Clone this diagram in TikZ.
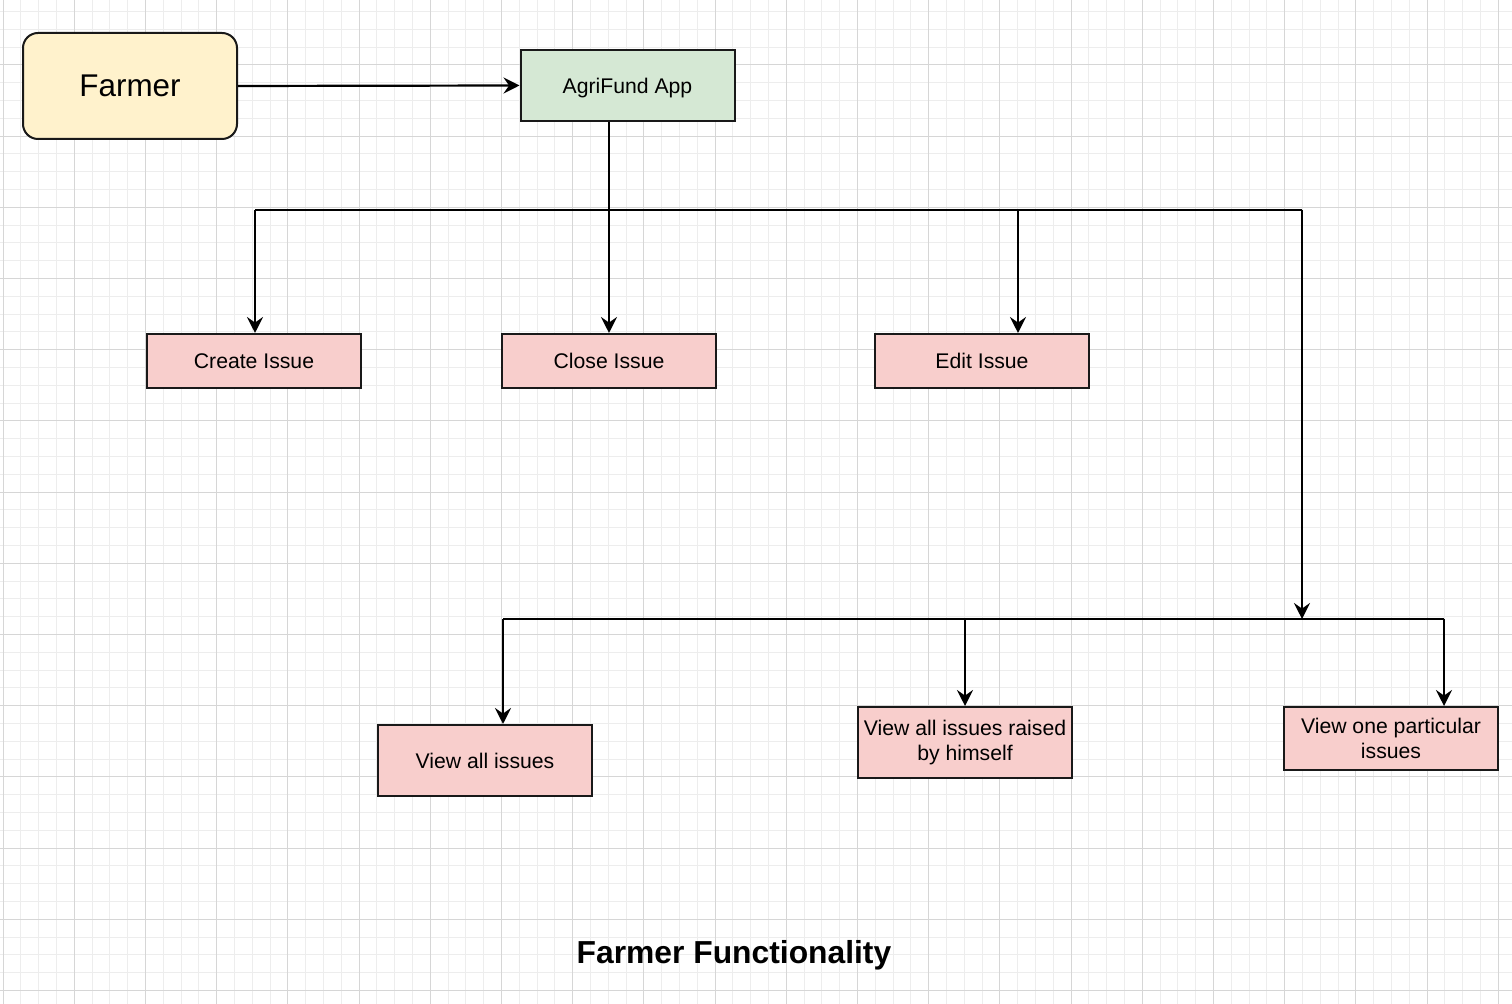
\documentclass[tikz,border=0pt]{standalone}
\usepackage{fontspec}
\setsansfont{Liberation Sans}
\usetikzlibrary{arrows.meta,positioning}

\definecolor{farmerfill}{HTML}{FFF2CC}
\definecolor{appfill}{HTML}{D5E8D4}
\definecolor{taskfill}{HTML}{F8CECC}
\definecolor{gridminor}{HTML}{EDEDED}
\definecolor{gridmajor}{HTML}{D6D6D6}

\begin{document}
\begin{tikzpicture}[
    x=0.5pt, y=-0.5pt,
    font=\sffamily,
    >={Stealth[length=8pt, width=8pt, inset=2.8pt]},
    actorbox/.style={rectangle, draw=black!90, fill=farmerfill, rounded corners=7.5pt, minimum width=107pt, minimum height=53pt, line width=1pt, font=\sffamily\fontsize{15.7}{19}\selectfont},
    appbox/.style={rectangle, draw=black!90, fill=appfill, minimum width=107pt, minimum height=35.5pt, line width=1pt, inner sep=1.5pt, text depth=0pt, font=\sffamily\fontsize{10.6}{12.5}\selectfont},
    taskbox/.style={rectangle, draw=black!90, fill=taskfill, minimum width=107pt, minimum height=27pt, align=center, line width=1pt, inner sep=1.5pt, font=\sffamily\fontsize{10.6}{12.5}\selectfont},
    wire/.style={line width=1.1pt, draw=black},
    minorline/.style={line width=0.5pt, draw=gridminor},
    majorline/.style={line width=0.5pt, draw=gridmajor}
]
\useasboundingbox (0,0) rectangle (1512,1004);
\fill[white] (0,0) rectangle (1512,1004);

% Background grid
\foreach \i in {0,...,84} \draw[minorline] ({3+17.8*\i},0) -- ({3+17.8*\i},1004);
\foreach \j in {0,...,55} \draw[minorline] (0,{11.6+17.8*\j}) -- (1512,{11.6+17.8*\j});
\foreach \i in {0,...,21} \draw[majorline] ({3+71.2*\i},0) -- ({3+71.2*\i},1004);
\foreach \j in {1,...,14} \draw[majorline] (0,{-6.2+71.2*\j}) -- (1512,{-6.2+71.2*\j});

% Actor & App
\node[actorbox] (farmer) at (130, 86) {Farmer};
\node[appbox] (app) at (627.5, 85.5) {AgriFund App};

% Issue actions
\node[taskbox] (create) at (254, 361) {Create Issue};
\node[taskbox] (close) at (609, 361) {Close Issue};
\node[taskbox] (edit) at (982, 361) {Edit Issue};

% View actions
\node[taskbox, minimum height=35.5pt] (viewall) at (485, 760.5) {View all issues};
\node[taskbox, minimum height=35.5pt] (viewown) at (965, 742.5) {View all issues raised\\ by himself};
\node[taskbox, minimum height=31.5pt] (viewone) at (1391, 738.5) {View one particular\\ issues};

% Caption
\node[font=\sffamily\bfseries\fontsize{15.9}{19}\selectfont] (caption) at (734, 955) {Farmer Functionality};

% Junctions
\coordinate (busL) at (255, 210);
\coordinate (busR) at (1302, 210);
\coordinate (editdrop) at (1018, 210);
\coordinate (viewbusL) at (503, 619);
\coordinate (viewbusM) at (1302, 619);
\coordinate (viewbusR) at (1444, 619);
\coordinate (owndrop) at (965, 619);

% Arrows
\draw[->, wire] (farmer.east) -- (app.west);
\draw[->, wire] (app.south -| close.north) -- (close.north);
\draw[wire] (busL) -- (busR);
\draw[->, wire] (busL) -- (busL |- create.north);
\draw[->, wire] (editdrop) -- (editdrop |- edit.north);
\draw[->, wire] (busR) -- (viewbusM);

\draw[wire] (viewbusL) -- (viewbusR);
\draw[->, wire] (viewbusL) -- (viewbusL |- viewall.north);
\draw[->, wire] (owndrop) -- (owndrop |- viewown.north);
\draw[->, wire] (viewbusR) -- (viewbusR |- viewone.north);

\end{tikzpicture}
\end{document}
